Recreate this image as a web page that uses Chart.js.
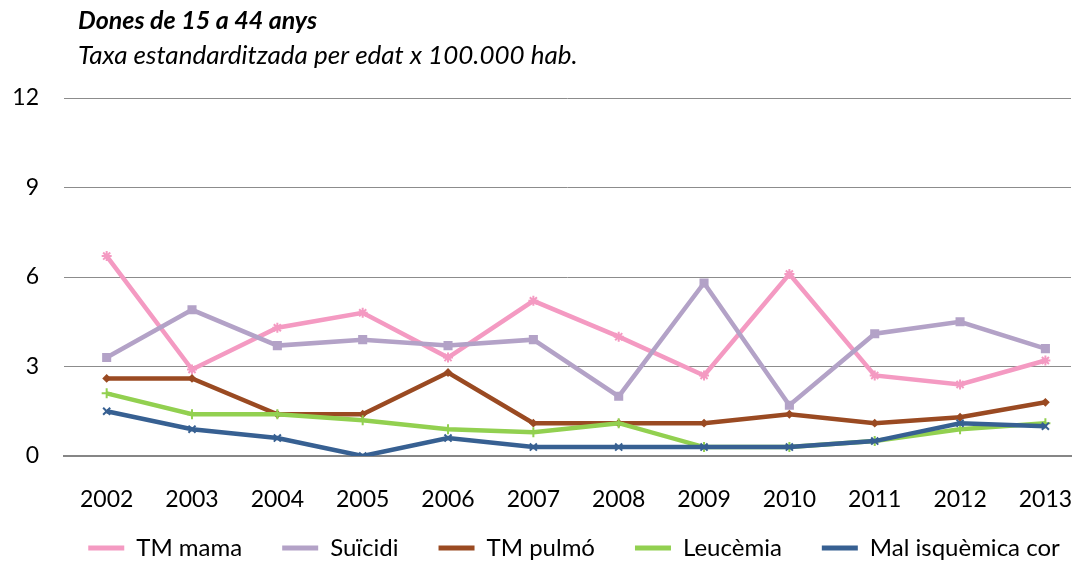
<!DOCTYPE html>
<html>
<head>
<meta charset="utf-8">
<script src="https://cdn.jsdelivr.net/npm/chart.js@4/dist/chart.umd.min.js"></script>
<style>
  html, body { margin: 0; padding: 0; background: #fff; overflow: hidden; }
  #wrap { width: 1078px; height: 563px; position: relative; }
</style>
</head>
<body>
<div id="wrap"><canvas id="chart"></canvas></div>
<script>
const years = [2002, 2003, 2004, 2005, 2006, 2007, 2008, 2009, 2010, 2011, 2012, 2013];
const yTicks = [0, 3, 6, 9, 12];

const tmMama     = [6.7, 2.9, 4.3, 4.8, 3.3, 5.2, 4.0, 2.7, 6.1, 2.7, 2.4, 3.2];
const suicidi    = [3.3, 4.9, 3.7, 3.9, 3.7, 3.9, 2.0, 5.8, 1.7, 4.1, 4.5, 3.6];
const tmPulmo    = [2.6, 2.6, 1.4, 1.4, 2.8, 1.1, 1.1, 1.1, 1.4, 1.1, 1.3, 1.8];
const leucemia   = [2.1, 1.4, 1.4, 1.2, 0.9, 0.8, 1.1, 0.3, 0.3, 0.5, 0.9, 1.1];
const malIsquem  = [1.5, 0.9, 0.6, 0.0, 0.6, 0.3, 0.3, 0.3, 0.3, 0.5, 1.1, 1.0];

const titleText = 'Dones de 15 a 44 anys';
const subtitleText = 'Taxa estandarditzada per edat x 100.000 hab.';

const FONT = 'Lato, "Open Sans", sans-serif';

function pts(arr) {
    return arr.map((v, i) => ({ x: years[i], y: v }));
}

function series(label, data, color, style, radius, order) {
    return {
        label: label,
        data: pts(data),
        borderColor: color,
        backgroundColor: color,
        borderWidth: 4.5,
        pointStyle: style,
        pointRadius: radius,
        pointBorderWidth: 2,
        pointBorderColor: color,
        pointBackgroundColor: color,
        tension: 0,
        order: order
    };
}

// header text drawn in the top margin
const headerPlugin = {
    id: 'header',
    afterDraw(chart) {
        const ctx = chart.ctx;
        ctx.save();
        ctx.fillStyle = '#000';
        ctx.textBaseline = 'alphabetic';
        ctx.textAlign = 'left';
        ctx.font = 'italic bold 25px ' + FONT;
        ctx.fillText(titleText, 78, 29);
        ctx.font = 'italic 26px ' + FONT;
        ctx.fillText(subtitleText, 78, 64);
        ctx.restore();
    }
};

// legend padding is wide for the item spacing, so pull the box back into place
const legendShift = {
    id: 'legendShift',
    afterLayout(chart) {
        const lg = chart.legend;
        lg.left += 35; lg.right += 35;
        lg.top -= 18; lg.bottom -= 18;
    }
};

new Chart(document.getElementById('chart'), {
    type: 'line',
    data: {
        datasets: [
            series('TM mama', tmMama, '#F49AC2', 'star', 5, 5),
            series('Suïcidi', suicidi, '#B3A2C7', 'rect', 5, 4),
            series('TM pulmó', tmPulmo, '#9A4A22', 'rectRot', 3, 3),
            series('Leucèmia', leucemia, '#92D050', 'cross', 5, 2),
            series('Mal isquèmica cor', malIsquem, '#376092', 'crossRot', 5, 1)
        ]
    },
    options: {
        responsive: true,
        maintainAspectRatio: false,
        animation: false,
        layout: { padding: { top: 98, left: 0, right: 0, bottom: -25 } },
        plugins: {
            tooltip: { enabled: false },
            legend: {
                position: 'bottom',
                labels: {
                    color: '#000',
                    font: { family: FONT, size: 24 },
                    boxWidth: 36,
                    boxHeight: 5,
                    padding: 40,
                    generateLabels(chart) {
                        return chart.data.datasets.map((ds, i) => ({
                            text: ds.label,
                            fillStyle: ds.borderColor,
                            strokeStyle: ds.borderColor,
                            lineWidth: 0,
                            datasetIndex: i
                        }));
                    }
                }
            }
        },
        scales: {
            x: {
                type: 'linear',
                min: 2001.5,
                max: 2013.3,
                afterBuildTicks(scale) {
                    scale.ticks = years.map(v => ({ value: v }));
                },
                afterFit(scale) {
                    scale.height = 58;
                    scale.paddingLeft = 0;
                    scale.paddingRight = 0;
                },
                grid: { display: false },
                border: { display: true, color: '#868686', width: 2 },
                ticks: {
                    color: '#000',
                    padding: 22,
                    font: { family: FONT, size: 23 },
                    callback: v => String(v),
                    maxRotation: 0,
                    autoSkip: false
                }
            },
            y: {
                min: 0,
                max: 12,
                afterBuildTicks(scale) {
                    scale.ticks = yTicks.map(v => ({ value: v }));
                },
                afterFit(scale) { scale.width = 64; },
                grid: { color: '#8C8C8C', lineWidth: 1, drawTicks: false },
                border: { display: false },
                ticks: {
                    color: '#000',
                    padding: 25,
                    font: { family: FONT, size: 23 }
                }
            }
        }
    },
    plugins: [headerPlugin, legendShift]
});
</script>
</body>
</html>
